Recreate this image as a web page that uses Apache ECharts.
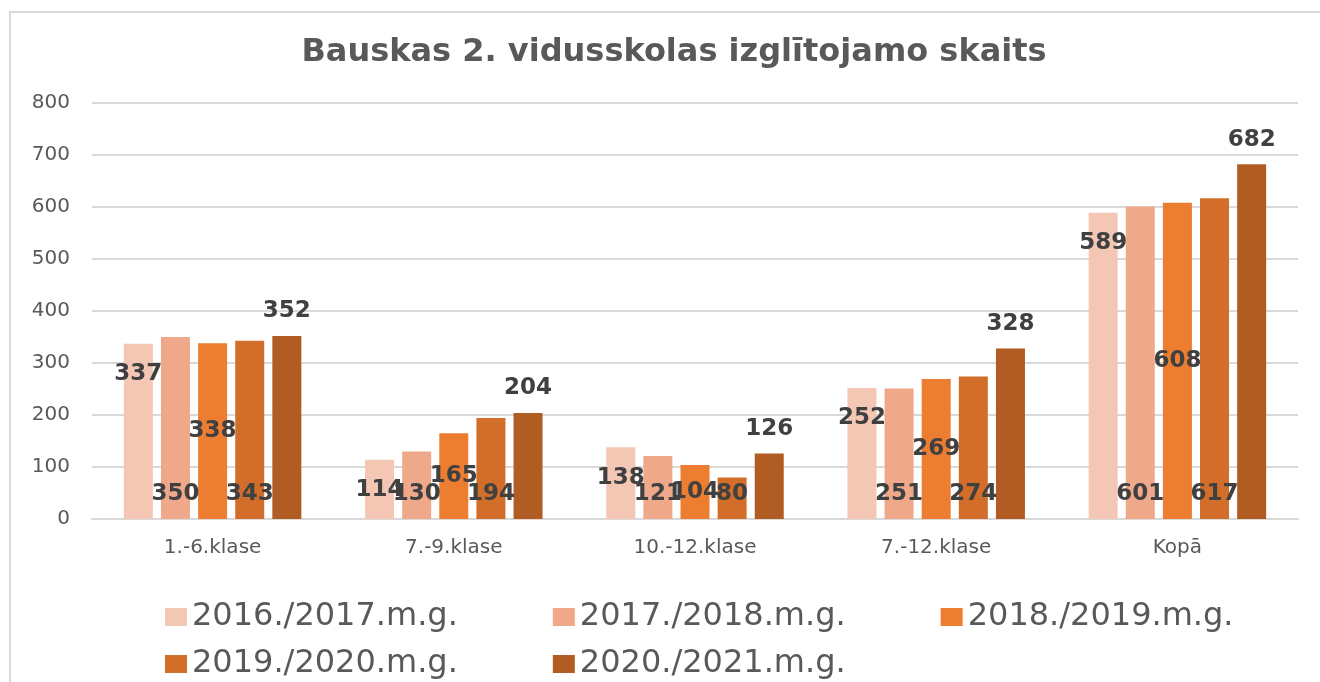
<!DOCTYPE html>
<html>
<head>
<meta charset="utf-8">
<title>Bauskas 2. vidusskolas izglītojamo skaits</title>
<script src="https://cdn.jsdelivr.net/npm/echarts@6/dist/echarts.min.js"></script>
<style>
  html, body { margin: 0; padding: 0; background: #fff; }
  #chart { width: 1320px; height: 682px; }
</style>
</head>
<body>
<div id="chart"></div>
<script>
// kategorijas un dati
var categories = ['1.-6.klase', '7.-9.klase', '10.-12.klase', '7.-12.klase', 'Kopā'];
var years = ['2016./2017.m.g.', '2017./2018.m.g.', '2018./2019.m.g.', '2019./2020.m.g.', '2020./2021.m.g.'];
var y2016 = [337, 114, 138, 252, 589];
var y2017 = [350, 130, 121, 251, 601];
var y2018 = [338, 165, 104, 269, 608];
var y2019 = [343, 194, 80, 274, 617];
var y2020 = [352, 204, 126, 328, 682];
var yTicks = [0, 100, 200, 300, 400, 500, 600, 700, 800];

var values = [y2016, y2017, y2018, y2019, y2020];
var colors = ['#F4C6B4', '#F0A88A', '#ED7D31', '#D26D2A', '#B05C22'];
// katras sērijas datu etiķetes novietojums (kā oriģinālā)
var labelPos = [
    { position: 'insideTop', distance: 19 },
    { position: 'insideBottom', distance: 13 },
    { position: 'inside', distance: 0 },
    { position: 'insideBottom', distance: 13 },
    { position: 'top', distance: 13 }
];

var series = values.map(function (data, i) {
    return {
        name: years[i],
        type: 'bar',
        data: data,
        barWidth: 29,
        barGap: '28%',
        itemStyle: { color: colors[i] },
        label: {
            show: true,
            position: labelPos[i].position,
            distance: labelPos[i].distance,
            fontFamily: 'DejaVu Sans',
            fontWeight: 'bold',
            fontSize: 23,
            color: '#404040'
        }
    };
});

var legendText = { fontFamily: 'DejaVu Sans', fontSize: 32, color: '#595959' };

var chart = echarts.init(document.getElementById('chart'));
chart.setOption({
    animation: false,
    title: {
        text: 'Bauskas 2. vidusskolas izglītojamo skaits',
        left: 669,
        top: 32,
        textAlign: 'center',
        textStyle: { fontFamily: 'DejaVu Sans', fontWeight: 'bold', fontSize: 32, color: '#595959' }
    },
    graphic: [{
        type: 'rect',
        shape: { x: 10, y: 12, width: 1400, height: 800 },
        style: { fill: 'none', stroke: '#d9d9d9', lineWidth: 2 },
        silent: true
    }],
    legend: [{
        data: years.slice(0, 3),
        left: 160,
        top: 596,
        itemWidth: 22,
        itemHeight: 18,
        itemGap: 95,
        icon: 'rect',
        textStyle: legendText
    }, {
        data: years.slice(3),
        left: 160,
        top: 643,
        itemWidth: 22,
        itemHeight: 18,
        itemGap: 95,
        icon: 'rect',
        textStyle: legendText
    }],
    grid: { left: 92, right: 22, top: 103, bottom: 163 },
    xAxis: {
        type: 'category',
        data: categories,
        axisTick: { show: false },
        axisLine: { lineStyle: { color: '#d9d9d9', width: 2 } },
        axisLabel: { fontFamily: 'DejaVu Sans', fontSize: 20, color: '#595959', margin: 19 }
    },
    yAxis: {
        type: 'value',
        min: yTicks[0],
        max: yTicks[yTicks.length - 1],
        interval: yTicks[1] - yTicks[0],
        axisLine: { show: false },
        axisTick: { show: false },
        splitLine: { lineStyle: { color: '#d9d9d9', width: 2 } },
        axisLabel: { fontFamily: 'DejaVu Sans', fontSize: 20, color: '#595959', margin: 22 }
    },
    series: series
});
</script>
</body>
</html>
